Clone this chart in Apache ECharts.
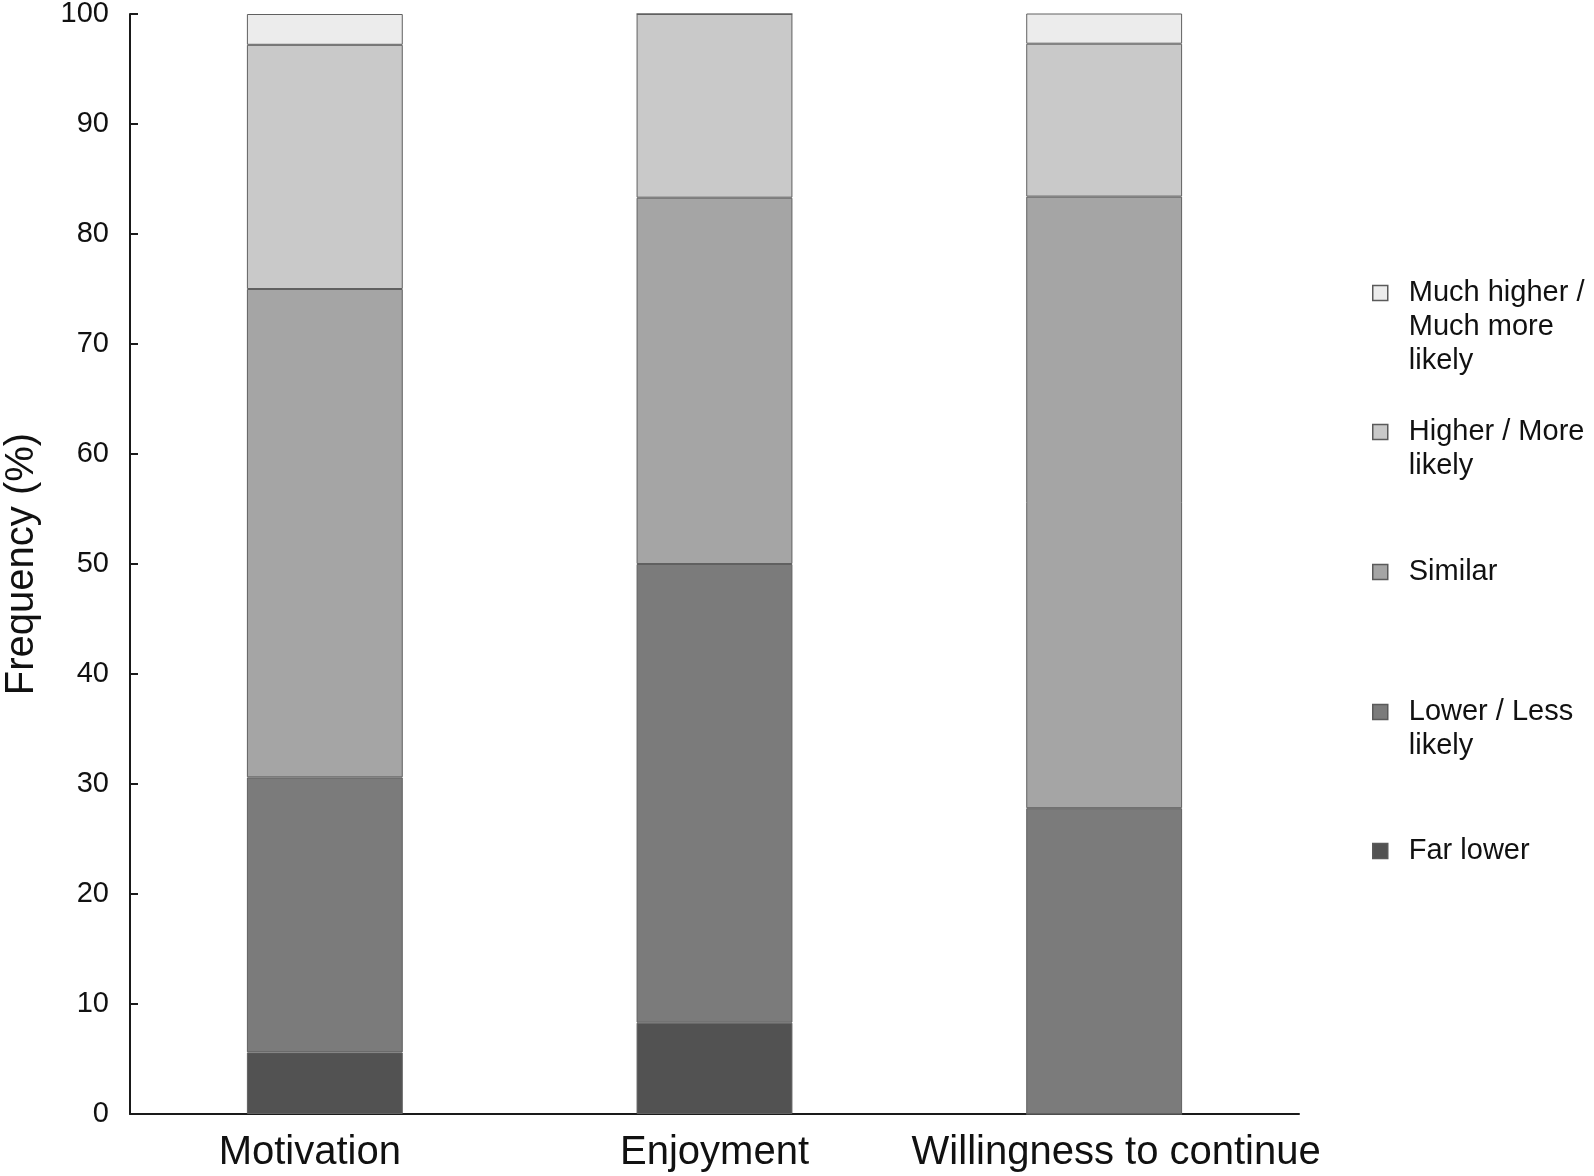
<!DOCTYPE html>
<html>
<head>
<meta charset="utf-8">
<script src="https://cdn.jsdelivr.net/npm/echarts@6/dist/echarts.min.js"></script>
<style>html,body{margin:0;padding:0;background:#fff}#c{width:1594px;height:1176px}</style>
</head>
<body>
<div id="c"></div>
<script>
var categories = ['Motivation', 'Enjoyment', 'Willingness to continue'];
var farLower = [5.6, 8.3, 0];
var lowerLess = [25.0, 41.7, 27.8];
var similar = [44.4, 33.3, 55.6];
var higherMore = [22.2, 16.7, 13.9];
var muchHigher = [2.8, 0, 2.8];
var seriesNames = ['Far lower', 'Lower / Less likely', 'Similar', 'Higher / More likely', 'Much higher / Much more likely'];
var legendLabels = ['Far lower', 'Lower / Less\nlikely', 'Similar', 'Higher / More\nlikely', 'Much higher /\nMuch more\nlikely'];
var yTicks = [0, 10, 20, 30, 40, 50, 60, 70, 80, 90, 100];

var colors = ['#525252', '#7b7b7b', '#a5a5a5', '#c9c9c9', '#ececec'];
var dataSets = [farLower, lowerLess, similar, higherMore, muchHigher];
var FONT = '"Liberation Sans", Arial, sans-serif';
var LH = 34;
var legendIconY = [851, 712, 572, 432, 293];

var series = dataSets.map(function (d, i) {
  return {
    name: seriesNames[i], type: 'bar', stack: 'all', barWidth: '40%',
    data: d,
    itemStyle: { color: colors[i], borderColor: '#606060', borderWidth: 1 },
    emphasis: { disabled: true }
  };
});

var legends = seriesNames.map(function (n, i) {
  var lines = legendLabels[i].split('\n').length;
  var H = (2 * lines - 1) * LH;
  var prefix = new Array(lines).join('\n');
  return {
    data: [n], left: 1372, top: legendIconY[i] - H / 2, padding: 0,
    orient: 'vertical', icon: 'rect', itemWidth: 15, itemHeight: 15,
    selectedMode: false,
    itemStyle: { borderColor: '#5a5a5a', borderWidth: 1.5 },
    formatter: function () { return prefix + legendLabels[i]; },
    textStyle: { fontFamily: FONT, fontSize: 29, color: '#111', lineHeight: LH, padding: [0, 0, 0, 16] }
  };
});

var chart = echarts.init(document.getElementById('c'));
chart.setOption({
  animation: false,
  backgroundColor: '#fff',
  grid: { left: 130, right: 295, top: 14, bottom: 62, containLabel: false, outerBoundsMode: 'none' },
  legend: legends,
  xAxis: {
    type: 'category', data: categories,
    axisLine: { lineStyle: { color: '#1a1a1a', width: 2 } },
    axisTick: { show: false },
    axisLabel: {
      interval: 0, fontFamily: FONT, fontSize: 40, color: '#111', margin: 19,
      formatter: function (v, idx) { return '{c' + idx + '|' + v + '}'; },
      rich: {
        c0: { fontFamily: FONT, fontSize: 40, color: '#111', padding: [0, 30, 0, 0] },
        c1: { fontFamily: FONT, fontSize: 40, color: '#111' },
        c2: { fontFamily: FONT, fontSize: 40, color: '#111', padding: [0, 0, 0, 24] }
      }
    }
  },
  yAxis: {
    type: 'value', min: 0, max: 100, interval: 10,
    name: 'Frequency (%)', nameLocation: 'middle', nameGap: 88,
    nameTextStyle: { fontFamily: FONT, fontSize: 40, color: '#111' },
    splitLine: { show: false },
    axisLine: { show: true, lineStyle: { color: '#1a1a1a', width: 2 } },
    axisTick: { show: true, inside: true, length: 8, lineStyle: { color: '#1a1a1a', width: 2 } },
    axisLabel: { fontFamily: FONT, fontSize: 29, color: '#111', margin: 21,
      formatter: function (v) { return yTicks.indexOf(v) >= 0 ? String(v) : ''; } }
  },
  series: series
});
</script>
</body>
</html>
